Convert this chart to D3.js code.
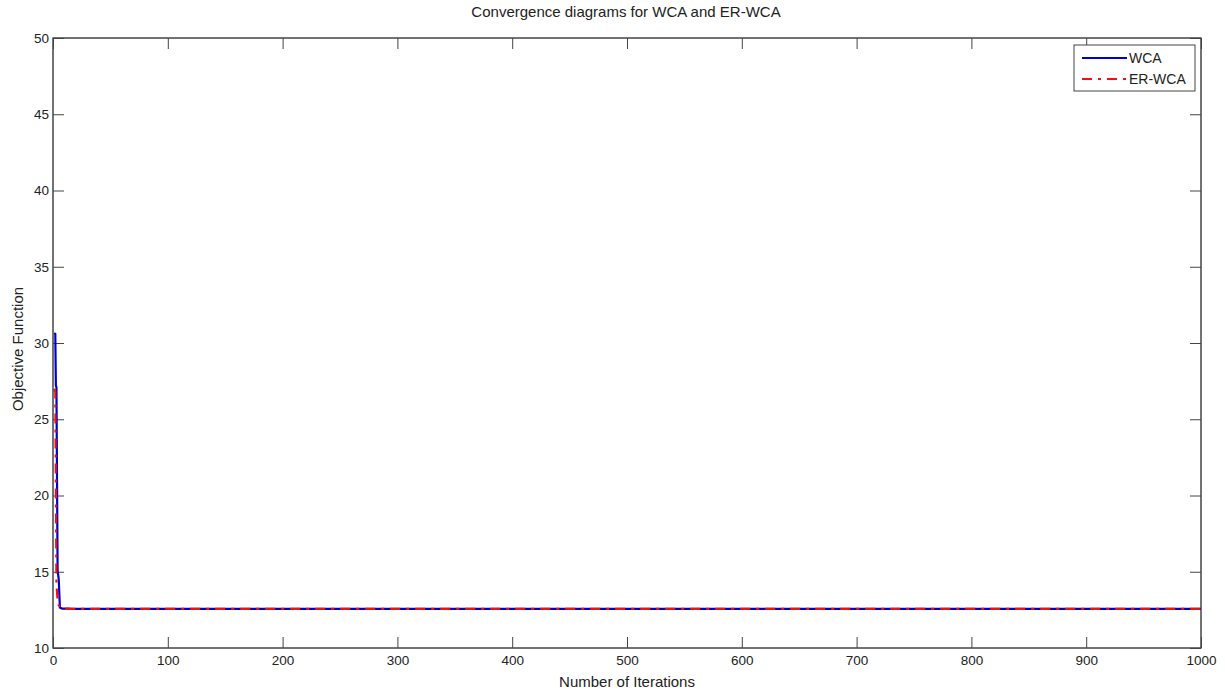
<!DOCTYPE html>
<html>
<head>
<meta charset="utf-8">
<script src="https://cdn.jsdelivr.net/npm/d3@7"></script>
<style>
	body { margin: 0; background: #fff; }
	svg text { font-family: "Liberation Sans", Arial, sans-serif; fill: #222; }
	.axis path, .axis line { stroke: #444; }
</style>
</head>
<body>
<svg id="chart" width="1225" height="693"></svg>
<script>
// iteration numbers and best objective value found
var wcaIterations = [1, 2, 2.5, 3, 4, 5, 6, 8, 14, 16, 1000];
var wcaValues = [30.65, 30.6, 27.2, 27.1, 15.1, 14.5, 12.65, 12.58, 12.58, 12.56, 12.56];
var erIterations = [1, 2, 3, 4, 5, 7, 10, 1000];
var erValues = [27.0, 26.8, 14.2, 13.1, 12.8, 12.6, 12.56, 12.56];

var xTicks = [0, 100, 200, 300, 400, 500, 600, 700, 800, 900, 1000];
var yTicks = [10, 15, 20, 25, 30, 35, 40, 45, 50];

var sizes = {
	left: 53, top: 38, width: 1148, height: 610, tick: 11
};

function translate(x, y) {
	return "translate(" + x + "," + y + ")";
}

function zip(xs, ys) {
	return xs.map(function (x, i) { return [x, ys[i]]; });
}

var svg = d3.select("#chart");

var xScale = d3.scaleLinear().domain([0, 1000]).range([0, sizes.width]);
var yScale = d3.scaleLinear().domain([10, 50]).range([sizes.height, 0]);

var plot = svg.append("g").attr("transform", translate(sizes.left, sizes.top));

// white axes box
plot.append("rect")
	.attr("width", sizes.width).attr("height", sizes.height)
	.attr("fill", "#fff").attr("stroke", "#444").attr("stroke-width", 1);

// ticks point inward like matlab, on all four sides
function addAxis(axis, x, y, cls, labels) {
	var g = plot.append("g")
		.attr("class", "axis " + cls)
		.attr("transform", translate(x, y))
		.call(axis);
	g.select(".domain").remove();
	g.selectAll("text").style("font-size", "13.5px");
	if (!labels) g.selectAll("text").remove();
	return g;
}

addAxis(d3.axisBottom(xScale).tickValues(xTicks).tickSize(-sizes.tick).tickPadding(7).tickFormat(d3.format("d")),
	0, sizes.height, "x", true);
addAxis(d3.axisTop(xScale).tickValues(xTicks).tickSize(-sizes.tick), 0, 0, "x top", false);
addAxis(d3.axisLeft(yScale).tickValues(yTicks).tickSize(-sizes.tick).tickPadding(4).tickFormat(d3.format("d")),
	0, 0, "y", true);
addAxis(d3.axisRight(yScale).tickValues(yTicks).tickSize(-sizes.tick), sizes.width, 0, "y right", false);

var line = d3.line()
	.x(function (d) { return xScale(d[0]); })
	.y(function (d) { return yScale(d[1]); });

svg.append("clipPath").attr("id", "plotclip")
	.append("rect").attr("width", sizes.width).attr("height", sizes.height);

var lines = plot.append("g").attr("clip-path", "url(#plotclip)");

lines.append("path")
	.datum(zip(wcaIterations, wcaValues))
	.attr("d", line)
	.attr("fill", "none")
	.attr("stroke", "#0000cc")
	.attr("stroke-width", 2.2);

lines.append("path")
	.datum(zip(erIterations, erValues))
	.attr("d", line)
	.attr("fill", "none")
	.attr("stroke", "#ee1111")
	.attr("stroke-width", 2.2)
	.attr("stroke-dasharray", "10,6,3,6");

// redraw the axes outline on top of the lines
plot.append("rect")
	.attr("width", sizes.width).attr("height", sizes.height)
	.attr("fill", "none").attr("stroke", "#444").attr("stroke-width", 1);

// legend
var legend = svg.append("g").attr("transform", translate(1074, 45));
legend.append("rect")
	.attr("width", 121).attr("height", 46)
	.attr("fill", "#fff").attr("stroke", "#444").attr("stroke-width", 1);
var legendItems = [
	{ name: "WCA", color: "#0000cc", dash: null, y: 13 },
	{ name: "ER-WCA", color: "#ee1111", dash: "10,6,3,6", y: 34 }
];
legendItems.forEach(function (item) {
	legend.append("line")
		.attr("x1", 8).attr("x2", 53)
		.attr("y1", item.y).attr("y2", item.y)
		.attr("stroke", item.color).attr("stroke-width", 2)
		.attr("stroke-dasharray", item.dash);
	legend.append("text")
		.attr("x", 55).attr("y", item.y + 5)
		.style("font-size", "14px")
		.text(item.name);
});

// titles
svg.append("text")
	.attr("x", 626).attr("y", 17)
	.attr("text-anchor", "middle").style("font-size", "15px")
	.text("Convergence diagrams for WCA and ER-WCA");
svg.append("text")
	.attr("x", sizes.left + sizes.width / 2).attr("y", 687)
	.attr("text-anchor", "middle").style("font-size", "15px")
	.text("Number of Iterations");
svg.append("text")
	.attr("transform", translate(23, 349) + " rotate(-90)")
	.attr("text-anchor", "middle").style("font-size", "15px")
	.text("Objective Function");
</script>
</body>
</html>
